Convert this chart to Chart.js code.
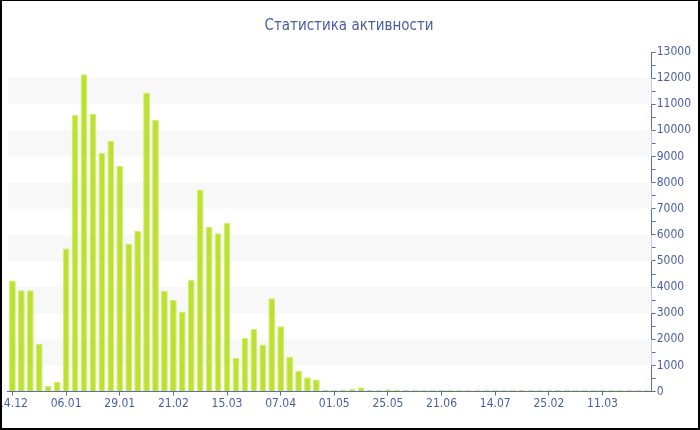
<!DOCTYPE html>
<html>
<head>
<meta charset="utf-8">
<script src="https://cdn.jsdelivr.net/npm/chart.js@4/dist/chart.umd.min.js"></script>
<style>
  html, body { margin: 0; padding: 0; background: #fff; }
  #frame {
    position: relative;
    width: 700px;
    height: 430px;
    box-sizing: border-box;
    border: 2px solid #000;
    border-top-width: 1px;
    overflow: hidden;
  }
  #wrap { position: absolute; left: -6px; top: 0; width: 708px; height: 427px; }
</style>
</head>
<body>
<div id="frame"><div id="wrap"><canvas id="chart"></canvas></div></div>
<script>
const titleText = 'Статистика активности'

// one tick label every 6 bars
const tickLabels = ['14.12', '06.01', '29.01', '21.02', '15.03', '07.04',
  '01.05', '25.05', '21.06', '14.07', '25.02', '11.03']
const labelEvery = 6

const values = [
  4250, 3880, 3880, 1820, 220, 380, 5480, 10600, 12150, 10640, 9140, 9590,
  8640, 5650, 6160, 11450, 10410, 3860, 3510, 3070, 4280, 7740, 6310, 6060,
  6460, 1300, 2050, 2410, 1800, 3570, 2500, 1330, 800, 550, 460, 75,
  65, 85, 110, 170, 75, 70, 90, 75, 65, 70, 65, 65,
  70, 65, 65, 60, 60, 65, 70, 60, 65, 60, 65, 60,
  60, 65, 70, 60, 65, 60, 60, 65, 60, 65, 60, 60
]

const categories = values.map((v, i) => i % labelEvery === 0 ? tickLabels[i / labelEvery] : '')

// shaded bands behind the bars
const bandLows = [1000, 3000, 5000, 7000, 9000, 11000]
const bandHighs = [2000, 4000, 6000, 8000, 10000, 12000]

const axisBlue = '#5a6eab'
const textBlue = '#4a5da3'
const font = "'DejaVu Sans Condensed', 'DejaVu Sans', sans-serif"

const bandsPlugin = {
  id: 'bands',
  beforeDatasetsDraw(chart) {
    const { ctx, chartArea, scales } = chart
    ctx.save()
    ctx.fillStyle = '#f8f8f8'
    bandLows.forEach((lo, i) => {
      const yTop = scales.y.getPixelForValue(bandHighs[i])
      const yBot = scales.y.getPixelForValue(lo)
      ctx.fillRect(chartArea.left, yTop, chartArea.right - chartArea.left, yBot - yTop)
    })
    ctx.restore()
  }
}

new Chart(document.getElementById('chart'), {
  type: 'bar',
  data: {
    labels: categories,
    datasets: [{
      data: values,
      backgroundColor: '#bce131',
      borderColor: '#d2ee70',
      borderWidth: 1,
      categoryPercentage: 1,
      barPercentage: 0.76
    }]
  },
  options: {
    responsive: true,
    maintainAspectRatio: false,
    animation: false,
    layout: { padding: { top: 0, right: 2, bottom: 16, left: 0 } },
    plugins: {
      legend: { display: false },
      tooltip: { enabled: false },
      title: {
        display: true,
        text: titleText,
        color: textBlue,
        font: { family: font, size: 15, weight: 'normal' },
        padding: { top: 16, bottom: 17 }
      }
    },
    scales: {
      x: {
        offset: true,
        grid: {
          offset: false,
          drawOnChartArea: false,
          tickLength: 4,
          color: ctx => ctx.index % labelEvery === 0 ? axisBlue : 'rgba(0,0,0,0)'
        },
        border: { color: axisBlue, width: 1 },
        ticks: {
          autoSkip: false,
          maxRotation: 0,
          color: textBlue,
          font: { family: font, size: 12 },
          padding: 1,
          callback: (v, i) => categories[i]
        }
      },
      y: {
        position: 'right',
        min: 0,
        max: 13000,
        afterFit: scale => { scale.width += 10 },
        grid: {
          drawOnChartArea: false,
          tickLength: 4,
          color: axisBlue
        },
        border: { color: axisBlue, width: 1 },
        ticks: {
          stepSize: 500,
          autoSkip: false,
          color: textBlue,
          font: { family: font, size: 12 },
          padding: 1,
          callback: v => v % 1000 === 0 ? String(v) : ''
        }
      }
    }
  },
  plugins: [bandsPlugin]
})
</script>
</body>
</html>
